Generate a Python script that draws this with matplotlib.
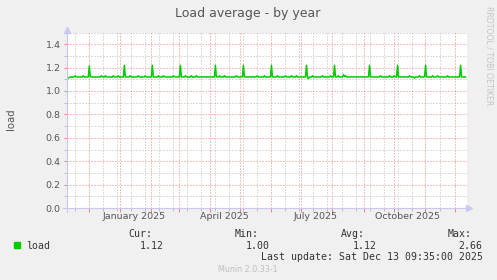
import numpy as np
import pandas as pd
import matplotlib
matplotlib.use("Agg")
import matplotlib.pyplot as plt
import matplotlib.dates as mdates
from matplotlib.ticker import MultipleLocator, FixedLocator, FormatStrFormatter, NullFormatter

# daily load average (spikes on the first sunday of each month)
dates = [
    "2024-11-08", "2024-11-09", "2024-11-10", "2024-11-11", "2024-11-12",
    "2024-11-16", "2024-11-17", "2024-11-18", "2024-11-24", "2024-11-25", "2024-11-26",
    "2024-11-30", "2024-12-01", "2024-12-02",
    "2024-12-12", "2024-12-13", "2024-12-14", "2024-12-16", "2024-12-17", "2024-12-18",
    "2024-12-24", "2024-12-25", "2024-12-26", "2024-12-29", "2024-12-30", "2024-12-31",
    "2025-01-04", "2025-01-05", "2025-01-06",
    "2025-01-10", "2025-01-11", "2025-01-12", "2025-01-18", "2025-01-19", "2025-01-20",
    "2025-01-25", "2025-01-26", "2025-01-27",
    "2025-02-01", "2025-02-02", "2025-02-03",
    "2025-02-07", "2025-02-08", "2025-02-09", "2025-02-12", "2025-02-13", "2025-02-14",
    "2025-02-22", "2025-02-23", "2025-02-24",
    "2025-03-01", "2025-03-02", "2025-03-03",
    "2025-03-06", "2025-03-07", "2025-03-08", "2025-03-12", "2025-03-13", "2025-03-14",
    "2025-03-17", "2025-03-18", "2025-03-19",
    "2025-04-05", "2025-04-06", "2025-04-07",
    "2025-04-09", "2025-04-10", "2025-04-11", "2025-04-14", "2025-04-15", "2025-04-16",
    "2025-04-26", "2025-04-27", "2025-04-28",
    "2025-05-03", "2025-05-04", "2025-05-05",
    "2025-05-17", "2025-05-18", "2025-05-19", "2025-05-24", "2025-05-25", "2025-05-26",
    "2025-05-31", "2025-06-01", "2025-06-02",
    "2025-06-06", "2025-06-07", "2025-06-08", "2025-06-14", "2025-06-15", "2025-06-16",
    "2025-06-20", "2025-06-21", "2025-06-22", "2025-06-25", "2025-06-26", "2025-06-27",
    "2025-07-05", "2025-07-06", "2025-07-07", "2025-07-08", "2025-07-09",
    "2025-07-11", "2025-07-12", "2025-07-13", "2025-07-21", "2025-07-22", "2025-07-23",
    "2025-07-29", "2025-07-30", "2025-07-31",
    "2025-08-02", "2025-08-03", "2025-08-04",
    "2025-08-06", "2025-08-07", "2025-08-08",
    "2025-08-11", "2025-08-12", "2025-08-13", "2025-08-14", "2025-08-15",
    "2025-09-06", "2025-09-07", "2025-09-08",
    "2025-09-17", "2025-09-18", "2025-09-19", "2025-09-26", "2025-09-27", "2025-09-28",
    "2025-10-01", "2025-10-02", "2025-10-03", "2025-10-04", "2025-10-05", "2025-10-06",
    "2025-10-16", "2025-10-17", "2025-10-18", "2025-10-21", "2025-10-22", "2025-10-23",
    "2025-10-26", "2025-10-27", "2025-10-28",
    "2025-11-01", "2025-11-02", "2025-11-03",
    "2025-11-08", "2025-11-09", "2025-11-10", "2025-11-13", "2025-11-14", "2025-11-15",
    "2025-11-23", "2025-11-24", "2025-11-25",
    "2025-12-06", "2025-12-07", "2025-12-08", "2025-12-12",
]
load = [
    1.125, 1.115, 1.11, 1.115, 1.12,
    1.12, 1.13, 1.12, 1.12, 1.13, 1.12,
    1.12, 1.215, 1.12,
    1.12, 1.13, 1.12, 1.12, 1.13, 1.12,
    1.12, 1.13, 1.12, 1.12, 1.13, 1.12,
    1.12, 1.22, 1.12,
    1.12, 1.13, 1.12, 1.12, 1.13, 1.12,
    1.12, 1.13, 1.12,
    1.12, 1.22, 1.12,
    1.12, 1.13, 1.12, 1.12, 1.13, 1.12,
    1.12, 1.13, 1.12,
    1.12, 1.22, 1.12,
    1.12, 1.13, 1.12, 1.12, 1.13, 1.12,
    1.12, 1.13, 1.12,
    1.12, 1.22, 1.12,
    1.12, 1.13, 1.12, 1.12, 1.13, 1.12,
    1.12, 1.13, 1.12,
    1.12, 1.22, 1.12,
    1.12, 1.13, 1.12, 1.12, 1.13, 1.12,
    1.12, 1.22, 1.12,
    1.12, 1.13, 1.12, 1.12, 1.13, 1.12,
    1.12, 1.13, 1.12, 1.12, 1.13, 1.12,
    1.12, 1.22, 1.115, 1.105, 1.12,
    1.12, 1.13, 1.12, 1.12, 1.13, 1.12,
    1.12, 1.13, 1.12,
    1.12, 1.22, 1.12,
    1.12, 1.13, 1.12,
    1.12, 1.14, 1.125, 1.13, 1.12,
    1.12, 1.22, 1.12,
    1.12, 1.13, 1.12, 1.12, 1.13, 1.12,
    1.12, 1.13, 1.12, 1.12, 1.22, 1.12,
    1.12, 1.13, 1.12, 1.12, 1.11, 1.12,
    1.12, 1.13, 1.12,
    1.12, 1.22, 1.12,
    1.12, 1.13, 1.12, 1.12, 1.13, 1.12,
    1.12, 1.13, 1.12,
    1.12, 1.22, 1.12, 1.12,
]

month_labels = ["January 2025", "April 2025", "July 2025", "October 2025"]
month_label_pos = ["2025-01-15", "2025-04-15", "2025-07-15", "2025-10-15"]

legend_name = "load"
stat_names = ["Cur:", "Min:", "Avg:", "Max:"]
stat_values = ["1.12", "1.00", "1.12", "2.66"]

W, H = 497, 280
BG = "#f0f0f0"
TXT = "#555555"
RED = "#f08080"
GREY = "#bbbbbb"
AXC = "#c8c8f0"


def fx(x):
    return x / W


def fy(y):
    return 1 - y / H


fig = plt.figure(figsize=(W / 100, H / 100), dpi=100, facecolor=BG)
ax = fig.add_axes([fx(66.7), fy(208), 400.3 / W, 175.5 / H])
ax.set_facecolor("white")

x = pd.to_datetime(dates)
ax.plot(x, load, color="#00cc00", lw=1.1, zorder=3)

ax.set_xlim(pd.Timestamp("2024-11-08 09:35"), pd.Timestamp("2025-12-13 09:35"))
ax.set_ylim(0, 1.5)

# grid: months red, two-week steps grey (hidden under a month line when they meet)
minor_days = pd.date_range("2024-11-17", "2025-12-13", freq="14D")
one = pd.Timedelta(days=1)
minor_days = [d for d in minor_days if d.day > 2 and (d + one).day != 1]

ax.xaxis.set_major_locator(mdates.MonthLocator())
ax.xaxis.set_minor_locator(FixedLocator(mdates.date2num(minor_days)))
ax.xaxis.set_major_formatter(NullFormatter())
ax.yaxis.set_major_locator(MultipleLocator(0.2))
ax.yaxis.set_minor_locator(MultipleLocator(0.1))
ax.yaxis.set_major_formatter(FormatStrFormatter("%.1f"))

ax.grid(which="minor", color=GREY, lw=0.72, dashes=(1, 2), zorder=1)
ax.grid(which="major", color=RED, lw=0.72, dashes=(1, 2), zorder=2)
ax.set_axisbelow(True)

for s in ax.spines.values():
    s.set_visible(False)

ax.tick_params(axis="x", which="major", length=3, width=0.7, color=RED)
ax.tick_params(axis="x", which="minor", length=2, width=0.7, color=GREY)
ax.tick_params(axis="y", which="major", length=2, width=0.7, color=RED,
               labelsize=6.8, labelcolor=TXT, pad=2.5)
ax.tick_params(axis="y", which="minor", length=2, width=0.7, color=GREY)

for lab, pos in zip(month_labels, month_label_pos):
    ax.annotate(lab, xy=(pd.Timestamp(pos), 0), xycoords=("data", "axes fraction"),
                xytext=(0, -6.3), textcoords="offset points",
                ha="center", va="center", fontsize=6.8, color=TXT)

# axis lines with arrows
ax.plot([-0.01, 1.006], [0, 0], transform=ax.transAxes, color=AXC, lw=0.8, clip_on=False, zorder=4)
ax.plot([1.006], [0], transform=ax.transAxes, marker=">", ms=4, color=AXC, clip_on=False, zorder=4)
ax.plot([0, 0], [-0.02, 1.017], transform=ax.transAxes, color=AXC, lw=0.8, clip_on=False, zorder=4)
ax.plot([0], [1.017], transform=ax.transAxes, marker="^", ms=4, color=AXC, clip_on=False, zorder=4)

fig.text(fx(248), fy(14), "Load average - by year", ha="center", va="center",
         fontsize=9, color=TXT)
fig.text(fx(11), fy(119), "load", rotation=90, ha="center", va="center",
         fontsize=7.3, color=TXT)
fig.text(fx(489), fy(6), "RRDTOOL / TOBI OETIKER", rotation=270, ha="center", va="top",
         fontsize=5.6, color="#c4c4c4")

# legend block
mono = "DejaVu Sans Mono"
fig.patches.append(plt.Rectangle((fx(14), fy(248)), 6 / W, 6 / H, transform=fig.transFigure,
                                 color="#00cc00"))
fig.text(fx(26), fy(245.7), legend_name, ha="left", va="center", fontsize=7.1,
         family=mono, color="#333333")
head_x = [128, 235, 341, 447.7]
val_right = [163.7, 270, 376.7, 482.7]
for hx, name in zip(head_x, stat_names):
    fig.text(fx(hx), fy(234), name, ha="left", va="center", fontsize=7.1,
             family=mono, color="#333333")
for vx, val in zip(val_right, stat_values):
    fig.text(fx(vx), fy(245.7), val, ha="right", va="center", fontsize=7.1,
             family=mono, color="#333333")
fig.text(fx(482.7), fy(257.3), "Last update: Sat Dec 13 09:35:00 2025", ha="right",
         va="center", fontsize=7.1, family=mono, color="#333333")
fig.text(fx(218.3), fy(269), "Munin 2.0.33-1", ha="left", va="center", fontsize=5.8,
         color="#c0c0c0")

fig.savefig("out.png", dpi=100, facecolor=BG)
